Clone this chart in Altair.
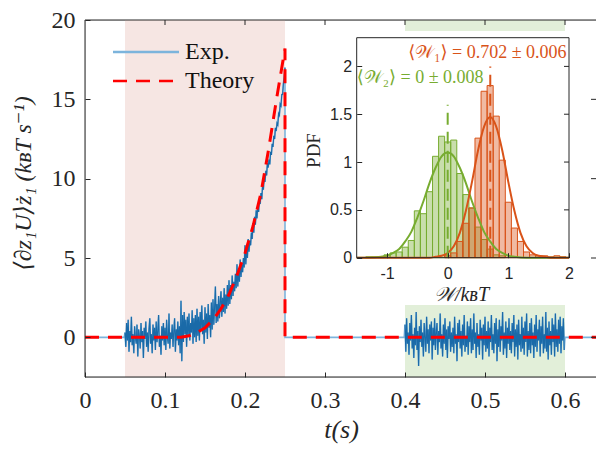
import altair as alt
import pandas as pd

SERIF = "Liberation Serif, DejaVu Serif, serif"
SANS = "Liberation Sans, Arial, sans-serif"
INK = "#262626"

# ---------------- main panel data ----------------
t_domain = [0, 0.63875]          # visible part of the time axis
v_domain = [-2.5, 20]
t_ticks = [0, 0.1, 0.2, 0.3, 0.4, 0.5, 0.6]
y_ticks = [0, 5, 10, 15, 20]
t_top_ticks = [0.1, 0.2, 0.3, 0.4, 0.5, 0.6]
y_right_ticks = [0, 5, 10, 15]

band_pink = [0.05, 0.25]
band_green = [0.40, 0.60]

# experimental trace, sampled every 1 ms
expA_t0 = 0.05
expA = [
    0.3, -0.6, 0.9, -0.2, 1.1, -0.9, 0.4, -0.3, 1.3, -0.5,
    0.2, -1.0, 0.7, 0.0, -0.4, 0.8, -1.2, 0.5, 0.1, -0.7,
    0.9, -0.3, 0.4, -1.3, 0.6, -0.1, 1.0, -0.6, 0.3, -0.9,
    0.5, 1.2, -0.4, 0.2, -1.0, 0.8, -0.2, 0.6, -0.8, 1.0,
    -0.3, 0.4, 1.4, -0.6, 0.1, -1.1, 0.7, -0.2, 0.9, -0.5,
    0.6, -0.8, 1.1, 0.0, -0.4, 1.5, -0.7, 0.3, -0.1, 0.8,
    -0.6, 0.4, 1.2, -0.9, 0.5, -0.2, 1.0, -0.5, 0.7, -1.0,
    2.3, -1.5, 1.4, -0.3, 1.6, 0.2, 1.1, -0.6, 1.3, 0.1,
    1.5, -0.2, 0.9, 0.3, 1.7, -0.4, 1.2, 0.0, 1.4, -0.3,
    1.8, 0.1, 1.3, -0.2, 1.6, 0.4, 2.0, 0.2, 1.1, -0.4,
    1.9, 0.3, 1.5, -0.1, 2.1, 0.6, 1.4, 0.0, 2.2, 0.5,
    2.4, 0.8, 1.9, 3.2, 0.9, 2.1, 1.0, 2.6, 1.2, 2.2,
    2.9, 1.3, 2.5, 1.6, 3.1, 1.5, 2.7, 1.8, 3.3, 2.0,
    3.6, 2.1, 3.3, 2.4, 3.9, 2.6, 3.5, 2.9, 4.0, 3.1,
    4.6, 3.2, 4.3, 3.5, 4.9, 3.8, 4.6, 4.1, 5.0, 4.4,
    5.8, 4.6, 5.6, 5.0, 6.2, 5.4, 6.1, 5.8, 6.6, 6.2,
    7.2, 6.6, 7.6, 7.1, 8.0, 7.5, 8.3, 7.9, 8.7, 8.4,
    9.1, 8.7, 9.6, 9.3, 10.1, 9.8, 10.5, 10.2, 11.0, 10.7,
    11.2, 10.9, 11.7, 11.5, 12.2, 12.0, 12.7, 12.5, 13.2, 13.0,
    13.5, 13.4, 14.1, 14.0, 14.7, 14.6, 15.3, 15.3, 16.0, 16.4,
]
exp_jump_t = 0.25
exp_jump_v = 17.0
exp_gap_t = 0.399
expB_t0 = 0.40
expB = [
    0.8, -0.9, 1.2, -0.4, 0.3, -1.1, 0.9, -0.2, 1.4, -0.7,
    0.2, -1.3, 0.6, -0.5, 1.6, -0.8, 0.4, -1.8, 0.7, -0.3,
    1.1, -0.6, 0.3, -1.2, 0.9, 0.0, -0.9, 1.3, -0.4, 0.5,
    -1.0, 0.8, -0.2, 1.0, -1.4, 0.6, -0.5, 1.2, -0.8, 0.3,
    0.9, -1.1, 0.4, -0.3, 1.5, -0.7, 0.2, -1.2, 0.8, -0.4,
    1.2, -0.8, 0.5, -1.3, 0.7, -0.1, 1.0, -0.9, 0.3, -0.6,
    0.6, -1.0, 1.3, -0.4, 0.2, -1.5, 0.9, -0.3, 1.1, -0.7,
    0.4, -1.2, 0.8, -0.5, 1.4, -0.9, 0.1, -0.6, 1.0, -1.1,
    0.7, -0.3, 1.2, -1.0, 0.5, -0.8, 1.5, -0.4, 0.3, -1.3,
    0.9, -0.6, 0.2, -1.1, 1.1, -0.2, 0.6, -1.4, 0.8, -0.5,
    1.3, -0.9, 0.4, -0.7, 1.0, -1.2, 0.6, -0.3, 1.4, -0.8,
    0.2, -1.0, 0.9, -0.4, 1.2, -1.5, 0.5, -0.6, 1.1, -0.9,
    0.7, -0.2, 1.6, -1.1, 0.3, -0.7, 1.0, -1.3, 0.6, -0.4,
    1.2, -0.8, 0.4, -1.0, 0.9, -0.3, 1.4, -1.2, 0.5, -0.6,
    0.8, -1.4, 1.1, -0.5, 0.2, -0.9, 1.3, -0.7, 0.6, -1.1,
    1.0, -0.3, 1.5, -1.2, 0.4, -0.8, 0.9, -1.0, 1.2, -0.5,
    0.3, -1.3, 0.8, -0.6, 1.4, -0.9, 0.5, -0.2, 1.1, -1.2,
    0.7, -0.4, 1.3, -1.0, 0.2, -0.7, 1.6, -0.9, 0.6, -1.4,
    1.0, -0.5, 0.4, -1.1, 1.2, -0.3, 0.8, -1.2, 1.5, -0.6,
    0.5, -0.9, 1.1, -0.4, 1.3, -1.0, 0.7, -0.2, 1.2, -0.8,
]
exp_flat_t = [0.0, 0.049, 0.60, 0.65]
step = 0.001

theory_t = [0.0, 0.12, 0.13, 0.14, 0.15, 0.16, 0.17, 0.18, 0.19, 0.20,
            0.21, 0.22, 0.23, 0.24, 0.25, 0.25, 0.65]
theory_v = [0.0, 0.0, 0.1, 0.3, 0.6, 1.1, 1.8, 2.7, 3.9, 5.3,
            7.0, 9.1, 12.0, 15.2, 18.2, 0.0, 0.0]

series_names = ["Exp.", "Theory"]

# ---------------- inset data ----------------
w_ticks = [-1, 0, 1, 2]
p_ticks = [0, 0.5, 1, 1.5, 2]
p_right_ticks = [0.5, 1, 1.5, 2]
w_domain = [-1.5, 2]
p_domain = [0, 2.3]
bin_width = 0.1

green_c = [-1.3, -1.2, -1.1, -1.0, -0.9, -0.8, -0.7, -0.6, -0.5, -0.4, -0.3, -0.2,
           -0.1, 0.0, 0.1, 0.2, 0.3, 0.4, 0.5, 0.6, 0.7, 0.8, 0.9]
green_h = [0.01, 0.01, 0.0, 0.03, 0.05, 0.06, 0.11, 0.18, 0.49, 0.46, 0.69, 1.06,
           1.27, 1.21, 1.23, 0.88, 0.66, 0.52, 0.32, 0.19, 0.09, 0.03, 0.02]
orange_c = [0.0, 0.1, 0.2, 0.3, 0.4, 0.5, 0.6, 0.7, 0.8, 0.9, 1.0, 1.1, 1.2, 1.3,
            1.4, 1.5, 1.6, 1.7, 1.8, 1.9]
orange_h = [0.02, 0.05, 0.17, 0.36, 0.52, 1.25, 1.74, 1.80, 1.48, 1.02, 0.58, 0.31,
            0.17, 0.06, 0.03, 0.02, 0.02, 0.01, 0.02, 0.01]

green_fit_w = [-1.5, -1.3, -1.1, -1.0, -0.9, -0.8, -0.7, -0.6, -0.5, -0.4, -0.3, -0.2,
               -0.1, 0.0, 0.1, 0.2, 0.3, 0.4, 0.5, 0.6, 0.7, 0.8, 0.9, 1.0, 1.1, 1.3,
               1.5, 2.0]
green_fit_p = [0.0, 0.0, 0.01, 0.02, 0.05, 0.09, 0.17, 0.27, 0.42, 0.59, 0.78, 0.94,
               1.06, 1.10, 1.06, 0.94, 0.78, 0.59, 0.42, 0.27, 0.17, 0.09, 0.05, 0.02,
               0.01, 0.0, 0.0, 0.0]
orange_fit_w = [-1.5, -0.5, -0.3, -0.2, -0.1, 0.0, 0.1, 0.2, 0.3, 0.4, 0.5, 0.6, 0.7,
                0.8, 0.9, 1.0, 1.1, 1.2, 1.3, 1.4, 1.5, 1.6, 1.7, 1.9, 2.0]
orange_fit_p = [0.0, 0.0, 0.0, 0.01, 0.02, 0.05, 0.12, 0.26, 0.49, 0.79, 1.12, 1.37,
                1.47, 1.37, 1.12, 0.79, 0.49, 0.26, 0.12, 0.05, 0.02, 0.01, 0.0, 0.0, 0.0]

mean_w = [0.0, 0.702]
mean_line_top = [1.6, 2.0]
ann_text = ["⟨𝒲₁⟩ = 0.702 ± 0.006", "⟨𝒲₂⟩ = 0 ± 0.008"]
ann_w = [1.96, -1.5]
ann_p = [2.14, 1.88]

# ---------------- styling ----------------
W, H = 511, 357
IN_L, IN_R, IN_T, IN_B = 271.7, 484.0, 17.7, 237.7
LIGHT = "#7cb4dc"
DARK = "#1a6aa8"
RED = "#ff0000"
GREEN = "#77ac30"
ORANGE = "#d95319"
PINK_BG = "#f6e6e3"
GREEN_BG = "#e2efd9"

# ---------------- tables ----------------
rows = [(exp_flat_t[0], 0.0, "flat"), (exp_flat_t[1], 0.0, "flat")]
rows += [(round(expA_t0 + i * step, 4), v, "A") for i, v in enumerate(expA)]
rows += [(exp_jump_t, exp_jump_v, "A"), (exp_jump_t, 0.0, "flat"), (exp_gap_t, 0.0, "flat")]
rows += [(round(expB_t0 + i * step, 4), v, "B") for i, v in enumerate(expB)]
rows += [(exp_flat_t[2], 0.0, "flat"), (exp_flat_t[3], 0.0, "flat")]
exp_df = pd.DataFrame(rows, columns=["t", "v", "seg"])
exp_df["idx"] = range(len(exp_df))
exp_df["series"] = "Exp."
noisy_df = exp_df[exp_df["seg"] != "flat"].copy()

th_df = pd.DataFrame({"t": theory_t, "v": theory_v})
th_df["idx"] = range(len(th_df))
th_df["series"] = "Theory"

pink_df = pd.DataFrame({"t": [band_pink[0]], "t2": [band_pink[1]]})
green_df = pd.DataFrame({"t": [band_green[0]], "t2": [band_green[1]]})
top_df = pd.DataFrame({"t": t_top_ticks})
right_df = pd.DataFrame({"v": y_right_ticks})
one_df = pd.DataFrame({"a": [0]})

gbar = pd.DataFrame({"w": [c - bin_width / 2 for c in green_c], "w2": [c + bin_width / 2 for c in green_c],
                     "p": green_h, "p0": [0.0] * len(green_c)})
obar = pd.DataFrame({"w": [c - bin_width / 2 for c in orange_c], "w2": [c + bin_width / 2 for c in orange_c],
                     "p": orange_h, "p0": [0.0] * len(orange_c)})
gfit = pd.DataFrame({"w": green_fit_w, "p": green_fit_p})
ofit = pd.DataFrame({"w": orange_fit_w, "p": orange_fit_p})
gvl = pd.DataFrame({"w": [mean_w[0]], "p": [0.0], "p2": [mean_line_top[0]]})
ovl = pd.DataFrame({"w": [mean_w[1]], "p": [0.0], "p2": [mean_line_top[1]]})
frame_df = pd.DataFrame({"w": [w_domain[0]], "w2": [w_domain[1]], "p": [p_domain[0]], "p2": [p_domain[1]]})
rt_df = pd.DataFrame({"p": p_right_ticks})

# ---------------- encodings ----------------
X = alt.X("t:Q", scale=alt.Scale(domain=t_domain, nice=False, zero=False),
          axis=alt.Axis(values=t_ticks, format=".1~f", orient="bottom", offset=-5, tickSize=5,
                        domain=False, grid=False, labelFlush=False, labelPadding=11, zindex=1,
                        labelFont=SERIF, labelFontSize=24, labelColor=INK, tickColor=INK,
                        title="t(s)", titleFont=SERIF, titleFontSize=26, titleFontStyle="italic",
                        titleFontWeight="normal", titleColor=INK, titleX=256, titleY=57,
                        titleBaseline="middle", titleAlign="center"))
Y = alt.Y("v:Q", scale=alt.Scale(domain=v_domain, nice=False, zero=False),
          axis=alt.Axis(values=y_ticks, orient="left", offset=-5, tickSize=5, domain=False,
                        grid=False, labelPadding=10, labelFont=SERIF, labelFontSize=24, zindex=1,
                        labelColor=INK, tickColor=INK,
                        title="⟨∂z₁U⟩ż₁ (kʙT s⁻¹)", titleFont=SERIF, titleFontSize=24,
                        titleFontStyle="italic", titleFontWeight="normal", titleColor=INK,
                        titleX=-67, titleY=163, titleAngle=270, titleBaseline="middle",
                        titleAlign="center"))

LEG = alt.Legend(title=None, orient="none", legendX=76, legendY=20, symbolType="M-10,0H1",
                 symbolSize=144, symbolStrokeWidth=2.5, labelFont=SERIF, labelFontSize=24,
                 labelColor="#111111", labelOffset=0, rowPadding=5, padding=0)
COLOR = alt.Color("series:N", scale=alt.Scale(domain=series_names, range=[LIGHT, RED]), legend=LEG)
DASH = alt.StrokeDash("series:N", scale=alt.Scale(domain=series_names, range=[[1, 0], [14, 9]]),
                      legend=LEG)

XI = alt.X("w:Q", scale=alt.Scale(domain=w_domain, range=[IN_L, IN_R], nice=False, zero=False),
           axis=alt.Axis(values=w_ticks, orient="bottom", offset=-(H - IN_B) - 5, tickSize=5,
                         domain=False, grid=False, labelFlush=False, labelPadding=8, zindex=1,
                         labelFont=SANS, labelFontSize=16, labelColor=INK, tickColor=INK,
                         labelExpr="replace(datum.label, '\u2212', '-')",
                         title="𝒲/kʙT", titleFont=SERIF, titleFontSize=20, titleFontStyle="italic",
                         titleFontWeight="normal", titleColor=INK, titleX=376, titleY=42,
                         titleBaseline="middle", titleAlign="center"))
YI = alt.Y("p:Q", scale=alt.Scale(domain=p_domain, range=[IN_B, IN_T], nice=False, zero=False),
           axis=alt.Axis(values=p_ticks, format="~g", orient="left", offset=-IN_L - 5, tickSize=5,
                         zindex=1, domain=False, grid=False, labelPadding=5, labelFont=SANS,
                         labelFontSize=16, labelColor=INK, tickColor=INK, title="PDF",
                         titleFont=SERIF, titleFontSize=19, titleFontWeight="normal",
                         titleColor=INK, titleX=-48.7, titleY=130, titleAngle=270,
                         titleBaseline="middle", titleAlign="center"))

# ---------------- main layers ----------------
pink = alt.Chart(pink_df).mark_rect(color=PINK_BG).encode(
    x=X, x2="t2:Q", y=alt.value(0), y2=alt.value(H))
greenb = alt.Chart(green_df).mark_rect(color=GREEN_BG).encode(
    x=X, x2="t2:Q", y=alt.value(0), y2=alt.value(H))
white = alt.Chart(one_df).mark_rect(color="white").encode(
    x=alt.value(220), x2=alt.value(505), y=alt.value(11), y2=alt.value(285))
exp_light = alt.Chart(exp_df).mark_line(strokeWidth=1.6, clip=True).encode(
    x=X, y=Y, order="idx:Q", color=COLOR, strokeDash=DASH)
exp_dark = alt.Chart(noisy_df).mark_line(strokeWidth=1.1, color=DARK, clip=True).encode(
    x=X, y=Y, order="idx:Q", detail="seg:N")
theory = alt.Chart(th_df).mark_line(strokeWidth=3, clip=True).encode(
    x=X, y=Y, order="idx:Q", color=COLOR, strokeDash=DASH)
top_ticks = alt.Chart(top_df).mark_rule(color=INK, strokeWidth=1).encode(
    x=X, y=alt.value(0), y2=alt.value(5))
right_ticks = alt.Chart(right_df).mark_rule(color=INK, strokeWidth=1).encode(
    y=Y, x=alt.value(W - 5), x2=alt.value(W))
# box: top, bottom and left edges (the right edge lies just outside the visible page)
border_top = alt.Chart(one_df).mark_rule(color=INK, strokeWidth=1).encode(
    x=alt.value(0), x2=alt.value(W), y=alt.value(0))
border_bottom = alt.Chart(one_df).mark_rule(color=INK, strokeWidth=1).encode(
    x=alt.value(0), x2=alt.value(W), y=alt.value(H))
border_left = alt.Chart(one_df).mark_rule(color=INK, strokeWidth=1).encode(
    x=alt.value(0), y=alt.value(0), y2=alt.value(H))

main = alt.layer(pink, greenb, white, exp_light, exp_dark, theory, top_ticks, right_ticks,
                 border_top, border_bottom, border_left)

# ---------------- inset layers ----------------
gb = alt.Chart(gbar).mark_rect(fill=GREEN, fillOpacity=0.4, stroke=GREEN, strokeWidth=1).encode(
    x=XI, x2="w2:Q", y=YI, y2="p0:Q")
ob = alt.Chart(obar).mark_rect(fill=ORANGE, fillOpacity=0.4, stroke=ORANGE, strokeWidth=1).encode(
    x=XI, x2="w2:Q", y=YI, y2="p0:Q")
gf = alt.Chart(gfit).mark_line(color=GREEN, strokeWidth=2, interpolate="monotone").encode(x=XI, y=YI)
of = alt.Chart(ofit).mark_line(color=ORANGE, strokeWidth=2, interpolate="monotone").encode(x=XI, y=YI)
gv = alt.Chart(gvl).mark_rule(color=GREEN, strokeWidth=2, strokeDash=[12, 7]).encode(x=XI, y=YI, y2="p2:Q")
ov = alt.Chart(ovl).mark_rule(color=ORANGE, strokeWidth=2, strokeDash=[12, 7]).encode(x=XI, y=YI, y2="p2:Q")
ann1 = alt.Chart(pd.DataFrame({"w": [ann_w[0]], "p": [ann_p[0]], "s": [ann_text[0]]})).mark_text(
    align="right", baseline="middle", font=SERIF, fontSize=18, color=ORANGE).encode(x=XI, y=YI, text="s:N")
ann2 = alt.Chart(pd.DataFrame({"w": [ann_w[1]], "p": [ann_p[1]], "s": [ann_text[1]]})).mark_text(
    align="left", baseline="middle", font=SERIF, fontSize=18, color=GREEN).encode(x=XI, y=YI, text="s:N")
frame = alt.Chart(frame_df).mark_rect(filled=False, stroke=INK, strokeWidth=1).encode(
    x=XI, x2="w2:Q", y=YI, y2="p2:Q")
rticks = alt.Chart(rt_df).mark_rule(color=INK, strokeWidth=1).encode(
    y=YI, x=alt.value(IN_R - 5), x2=alt.value(IN_R))

inset = alt.layer(gb, ob, gf, of, gv, ov, ann1, ann2, frame, rticks)

chart = alt.layer(main, inset).resolve_scale(
    x="independent", y="independent"
).properties(
    width=W, height=H,
    padding={"left": 77, "top": 12, "right": 0, "bottom": 70},
    autosize=alt.AutoSizeParams(type="none"),
).configure_view(stroke=None).configure_axis(
    labelFont=SERIF, titleFont=SERIF
).configure(background="white")

chart.save("out.html", embed_options={"renderer": "svg", "actions": False})
